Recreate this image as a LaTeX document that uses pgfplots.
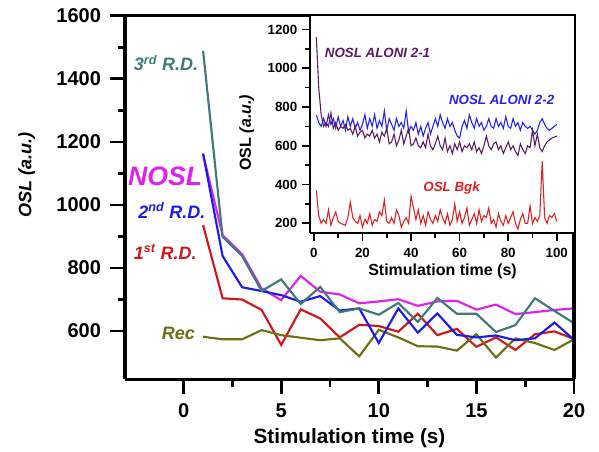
\documentclass[border=0pt]{standalone}
\usepackage{fontspec}
\setmainfont{Liberation Sans}
\usepackage{pgfplots}
\pgfplotsset{compat=1.18}

\definecolor{cNOSL}{HTML}{DD22EE}
\definecolor{cRDone}{HTML}{D01818}
\definecolor{cRDtwo}{HTML}{1A1AF0}
\definecolor{cRDthree}{HTML}{3E7A78}
\definecolor{cRec}{HTML}{6E6E12}
\definecolor{cAl1}{HTML}{5C1A60}
\definecolor{cAl2}{HTML}{2222F5}
\definecolor{cBgk}{HTML}{E02020}

\newcommand{\fs}[1]{\fontsize{#1}{#1}\selectfont}

\begin{document}
\begin{tikzpicture}
\useasboundingbox (-93.75pt,-54.5pt) rectangle (355.5pt,284.5pt);

% ---------------- main axis ----------------
\begin{axis}[
  at={(0pt,0pt)}, anchor=south west,
  scale only axis, width=336.75pt, height=272.7pt,
  xmin=-3, xmax=20, ymin=447, ymax=1600,
  xtick={0,5,10,15,20}, minor x tick num=1,
  ytick={600,800,1000,1200,1400,1600}, minor y tick num=1,
  axis x line*=bottom, axis y line*=left,
  tick align=outside,
  major tick length=11pt, minor tick length=5.5pt,
  every tick/.style={black, line width=2pt},
  axis line style={line width=2.3pt},
  /pgf/number format/assume math mode=true,
  /pgf/number format/1000 sep={},
  tick label style={font=\bfseries\fs{15pt}},
  xticklabel style={yshift=-3.5pt},
  yticklabel style={xshift=-3.5pt},
  xlabel={Stimulation time (s)},
  ylabel={\itshape OSL (a.u.)},
  xlabel style={font=\bfseries\fs{15.5pt}, at={(axis description cs:0.5,-0.161)}, anchor=center},
  ylabel style={font=\bfseries\fs{13.5pt}, at={(axis description cs:-0.219,0.562)}, anchor=center},
  clip=false,
]
% NOSL
\addplot[cNOSL, line width=1.6pt] coordinates {
 (1,1160) (2,904) (3,844) (4,735) (5,698) (6,775) (7,725) (8,716) (9,688) (10,694)
 (11,701) (12,680) (13,694) (14,696) (15,668) (16,684) (17,654) (18,660) (19,667) (20,672)};
% 1st R.D.
\addplot[cRDone, line width=1.6pt] coordinates {
 (1,936) (2,704) (3,700) (4,667) (5,556) (6,669) (7,640) (8,580) (9,620) (10,616)
 (11,598) (12,655) (13,587) (14,607) (15,550) (16,580) (17,540) (18,590) (19,599) (20,575)};
% Rec
\addplot[cRec, line width=1.6pt] coordinates {
 (1,582) (2,574) (3,574) (4,603) (5,587) (6,579) (7,571) (8,577) (9,520) (10,604)
 (11,580) (12,552) (13,551) (14,538) (15,590) (16,516) (17,577) (18,562) (19,540) (20,574)};
% 2nd R.D.
\addplot[cRDtwo, line width=1.6pt] coordinates {
 (1,1163) (2,838) (3,739) (4,727) (5,714) (6,693) (7,711) (8,665) (9,672) (10,562)
 (11,672) (12,595) (13,656) (14,588) (15,580) (16,586) (17,571) (18,577) (19,627) (20,572)};
% 3rd R.D.
\addplot[cRDthree, line width=1.6pt] coordinates {
 (1,1489) (2,899) (3,838) (4,727) (5,764) (6,686) (7,740) (8,660) (9,672) (10,652)
 (11,689) (12,629) (13,705) (14,655) (15,655) (16,597) (17,619) (18,704) (19,664) (20,625)};

\node[font=\bfseries\itshape\fs{13.5pt}, text=cRDthree] at (axis cs:-0.9,1450) {3\textsuperscript{rd} R.D.};
\node[font=\bfseries\itshape\fs{20pt}, text=cNOSL] at (axis cs:-0.94,1092) {NOSL};
\node[font=\bfseries\itshape\fs{13.5pt}, text=cRDtwo] at (axis cs:-0.6,984) {2\textsuperscript{nd} R.D.};
\node[font=\bfseries\itshape\fs{13.5pt}, text=cRDone] at (axis cs:-0.94,850) {1\textsuperscript{st} R.D.};
\node[font=\bfseries\itshape\fs{13.5pt}, text=cRec] at (axis cs:-0.27,594) {Rec};
\end{axis}
% closing the main frame (top and right)
\draw[line width=2.3pt] (0pt,272.7pt) -- (336.75pt,272.7pt) -- (336.75pt,0pt);

% ---------------- inset axis ----------------
\begin{axis}[
  at={(138.75pt,109.7pt)}, anchor=south west,
  scale only axis, width=198.75pt, height=163.5pt,
  axis background/.style={fill=white},
  xmin=-1.6, xmax=107.5, ymin=150, ymax=1274,
  xtick={0,20,40,60,80,100}, minor x tick num=1,
  ytick={200,400,600,800,1000,1200}, minor y tick num=1,
  axis x line*=bottom, axis y line*=left,
  tick align=outside,
  major tick length=6pt, minor tick length=3.5pt,
  every tick/.style={black, line width=1.3pt},
  axis line style={line width=1.6pt},
  /pgf/number format/assume math mode=true,
  /pgf/number format/1000 sep={},
  tick label style={font=\bfseries\fs{10pt}},
  xticklabel style={yshift=-1.5pt},
  xlabel={Stimulation time (s)},
  ylabel={OSL \itshape(a.u.)},
  xlabel style={font=\bfseries\fs{12pt}, at={(axis description cs:0.5,-0.175)}, anchor=center},
  ylabel style={font=\bfseries\fs{12pt}, at={(axis description cs:-0.239,0.46)}, anchor=center},
  clip=false,
]
% NOSL ALONI 2-2
\addplot[cAl2, line width=0.8pt] coordinates {
 (1,760) (2,720) (3,700) (4,740) (5,700) (6,760) (7,710) (8,740) (9,690) (10,750)
 (11,700) (12,730) (13,680) (14,750) (15,700) (16,740) (17,690) (18,720) (19,680) (20,710)
 (21,760) (22,690) (23,740) (24,700) (25,760) (26,690) (27,730) (28,700) (29,780) (30,680)
 (31,740) (32,710) (33,680) (34,740) (35,700) (36,720) (37,690) (38,780) (39,670) (40,700)
 (41,680) (42,720) (43,660) (44,700) (45,650) (46,690) (47,720) (48,660) (49,700) (50,740)
 (51,700) (52,760) (53,720) (54,690) (55,740) (56,700) (57,720) (58,680) (59,650) (60,640)
 (61,700) (62,730) (63,690) (64,760) (65,720) (66,690) (67,740) (68,700) (69,720) (70,680)
 (71,700) (72,740) (73,700) (74,690) (75,740) (76,700) (77,720) (78,690) (79,750) (80,700)
 (81,690) (82,740) (83,700) (84,720) (85,680) (86,720) (87,700) (88,690) (89,700) (90,680)
 (91,660) (92,680) (93,720) (94,740) (95,710) (96,690) (97,680) (98,690) (99,700) (100,710)};
% NOSL ALONI 2-1
\addplot[cAl1, line width=0.8pt] coordinates {
 (1,1160) (2,900) (3,760) (4,700) (5,720) (6,700) (7,770) (8,690) (9,720) (10,680)
 (11,700) (12,690) (13,710) (14,680) (15,690) (16,660) (17,700) (18,650) (19,670) (20,680)
 (21,640) (22,660) (23,650) (24,680) (25,640) (26,660) (27,620) (28,670) (29,650) (30,690)
 (31,610) (32,620) (33,660) (34,600) (35,630) (36,680) (37,610) (38,650) (39,690) (40,600)
 (41,610) (42,640) (43,600) (44,590) (45,620) (46,590) (47,660) (48,600) (49,580) (50,610)
 (51,650) (52,600) (53,580) (54,640) (55,570) (56,600) (57,560) (58,610) (59,580) (60,620)
 (61,570) (62,600) (63,590) (64,610) (65,580) (66,620) (67,570) (68,590) (69,560) (70,600)
 (71,650) (72,600) (73,580) (74,610) (75,620) (76,580) (77,600) (78,560) (79,590) (80,620)
 (81,580) (82,600) (83,570) (84,550) (85,610) (86,580) (87,560) (88,600) (89,590) (90,680)
 (91,600) (92,660) (93,590) (94,570) (95,600) (96,620) (97,630) (98,640) (99,645) (100,650)};
% OSL Bgk
\addplot[cBgk, line width=0.8pt] coordinates {
 (1,370) (2,240) (3,200) (4,220) (5,200) (6,270) (7,190) (8,230) (9,260) (10,210)
 (11,200) (12,195) (13,190) (14,230) (15,310) (16,230) (17,210) (18,200) (19,240) (20,180)
 (21,220) (22,200) (23,250) (24,190) (25,220) (26,210) (27,260) (28,240) (29,320) (30,210)
 (31,200) (32,230) (33,200) (34,270) (35,240) (36,180) (37,210) (38,230) (39,200) (40,340)
 (41,280) (42,220) (43,270) (44,200) (45,240) (46,190) (47,260) (48,220) (49,200) (50,240)
 (51,210) (52,270) (53,230) (54,200) (55,250) (56,190) (57,220) (58,300) (59,210) (60,260)
 (61,200) (62,230) (63,280) (64,190) (65,220) (66,250) (67,200) (68,270) (69,210) (70,240)
 (71,230) (72,280) (73,200) (74,220) (75,180) (76,250) (77,210) (78,190) (79,240) (80,200)
 (81,230) (82,260) (83,200) (84,170) (85,220) (86,250) (87,200) (88,200) (89,290) (90,200)
 (91,230) (92,210) (93,240) (94,520) (95,230) (96,200) (97,240) (98,230) (99,250) (100,210)};

\node[font=\bfseries\itshape\fs{10pt}, text=cAl1] at (axis cs:26.2,1079) {NOSL ALONI 2-1};
\node[font=\bfseries\itshape\fs{10pt}, text=cAl2] at (axis cs:77.3,839) {NOSL ALONI 2-2};
\node[font=\bfseries\itshape\fs{10pt}, text=cBgk] at (axis cs:56.7,380) {OSL Bgk};
\end{axis}
% closing the inset frame (top and right)
\draw[line width=1.6pt] (138.75pt,273.2pt) -- (337.5pt,273.2pt) -- (337.5pt,109.7pt);
\end{tikzpicture}
\end{document}
